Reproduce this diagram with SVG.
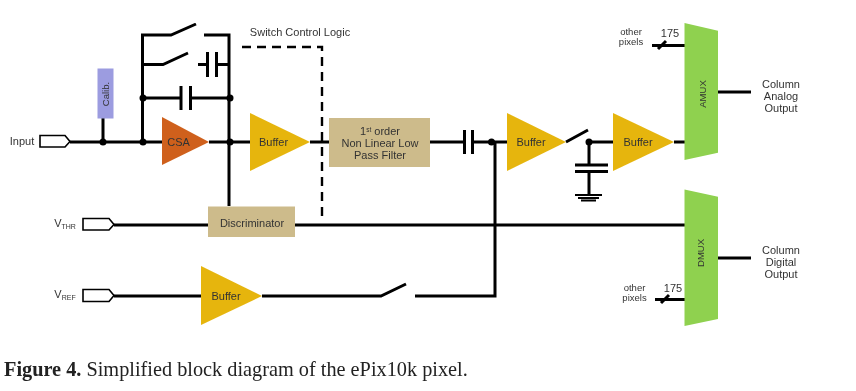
<svg xmlns="http://www.w3.org/2000/svg" width="856" height="391" viewBox="0 0 856 391">
<defs>
<style>
.w{fill:none;stroke:#000;stroke-width:3}
.t{stroke:#000;stroke-width:1.8;fill:none}
.p{fill:#fff;stroke:#000;stroke-width:1.6}
.d{fill:#000}
.buf{fill:#e6b50e}
.tan{fill:#cdbb8b}
.mux{fill:#8fd14f}
text{font-family:"Liberation Sans",Arial,sans-serif;fill:#333;font-size:11px;text-anchor:middle}
.s{font-size:9.500px}
.c{font-family:"Liberation Serif","Times New Roman",serif;font-size:20.300px;text-anchor:start;fill:#222}
</style>
<filter id="b" x="0" y="0" width="100%" height="100%"><feGaussianBlur stdDeviation="0.45"/></filter>
</defs>
<rect width="856" height="391" fill="#fff"/>
<g filter="url(#b)">
<g id="connectors">
<path class="w" d="M70 142H162M209 142H250M310 142H329M430 142H464M472 142H507M589 142H613M674 142H685"/>
<path class="w" d="M103 118V142M142.500 142V35H171L196 24M204 35H229V206M142.500 64.500H163L188 53M198 64.500H207M216 64.500H229M143 98H181M191 98H230"/>
<path class="w" d="M181 86V110M190.500 86V110M207.500 52V77M216.500 52V77M464.500 130V154M472.500 130V154"/>
<path class="w" d="M114 225H208M295 225H685M114 296H201M262 296H381L406 284M415 296H495V142M566 142L588 130"/>
<path class="w" d="M589 142V165M575 165H608M575 171.500H608M589 171.500V195"/>
<path class="t" d="M575 195H602M578 198H599M581 200.500H596"/>
<path d="M242 47H322V218" fill="none" stroke="#000" stroke-width="2.400" stroke-dasharray="9 6"/>
<path class="w" d="M652 45.500H685M658 49L666 41M655 299.500H685M661 303L669 295M718 92H751M718 258H751"/>
<circle class="d" cx="103" cy="142" r="3.500"/><circle class="d" cx="143" cy="142" r="3.500"/><circle class="d" cx="230" cy="142" r="3.500"/><circle class="d" cx="143" cy="98" r="3.500"/><circle class="d" cx="230" cy="98" r="3.500"/><circle class="d" cx="491.500" cy="142" r="3.500"/><circle class="d" cx="589" cy="142" r="3.500"/>
</g>
<g id="input"><path class="p" d="M40 135.500H65L70 141.500L65 147H40Z"/><text x="22" y="145">Input</text></g>
<g id="vthr"><path class="p" d="M83 218.500H109L114 224.500L109 230H83Z"/><text x="65" y="227">V<tspan font-size="7" dy="1.500">THR</tspan></text></g>
<g id="vref"><path class="p" d="M83 289.500H109L114 295.500L109 301.500H83Z"/><text x="65" y="298">V<tspan font-size="7" dy="1.500">REF</tspan></text></g>
<g id="calib"><rect x="97.500" y="68.500" width="16" height="50" fill="#9c9ce0"/><text transform="translate(109 94) rotate(-90)" class="s">Calib.</text></g>
<g id="csa"><path d="M162 117V165L209 142Z" fill="#cf611c"/><text x="178.500" y="146">CSA</text></g>
<g id="buffer1"><path class="buf" d="M250 113V171L310 142Z"/><text x="273.500" y="146">Buffer</text></g>
<g id="filter"><rect class="tan" x="329" y="118" width="101" height="49"/><text x="380" y="134.500">1<tspan font-size="6.500" dy="-3">st</tspan><tspan dy="3"> order</tspan></text><text x="380" y="147">Non Linear Low</text><text x="380" y="158.500">Pass Filter</text></g>
<g id="buffer2"><path class="buf" d="M507 113V171L566 142Z"/><text x="531" y="146">Buffer</text></g>
<g id="buffer3"><path class="buf" d="M613 113V171L674 142Z"/><text x="638" y="146">Buffer</text></g>
<g id="discriminator"><rect class="tan" x="208" y="206.500" width="87" height="30.500"/><text x="252" y="227">Discriminator</text></g>
<g id="buffer4"><path class="buf" d="M201 266V325L262 296Z"/><text x="226" y="300">Buffer</text></g>
<g id="amux"><path class="mux" d="M684.500 23L718 30.700V152.700L684.500 160Z"/><text transform="translate(706 94) rotate(-90)" style="font-size:9.500px">AMUX</text></g>
<g id="dmux"><path class="mux" d="M684.500 189.500L718 196.700V319L684.500 326Z"/><text transform="translate(704 253) rotate(-90)" style="font-size:9.500px">DMUX</text></g>
<g id="switch-label"><text x="300" y="36">Switch Control Logic</text></g>
<g id="other1"><text class="s" x="631" y="34.500">other</text><text class="s" x="631" y="44.500">pixels</text><text x="670" y="37">175</text></g>
<g id="other2"><text class="s" x="634.500" y="290.500">other</text><text class="s" x="634.500" y="300.500">pixels</text><text x="673" y="292">175</text></g>
<g id="analog-out"><text x="781" y="88">Column</text><text x="781" y="100">Analog</text><text x="781" y="112">Output</text></g>
<g id="digital-out"><text x="781" y="254">Column</text><text x="781" y="266">Digital</text><text x="781" y="278">Output</text></g>
<text class="c" x="4" y="376"><tspan font-weight="bold">Figure 4.</tspan> Simplified block diagram of the ePix10k pixel.</text>
</g>
</svg>
